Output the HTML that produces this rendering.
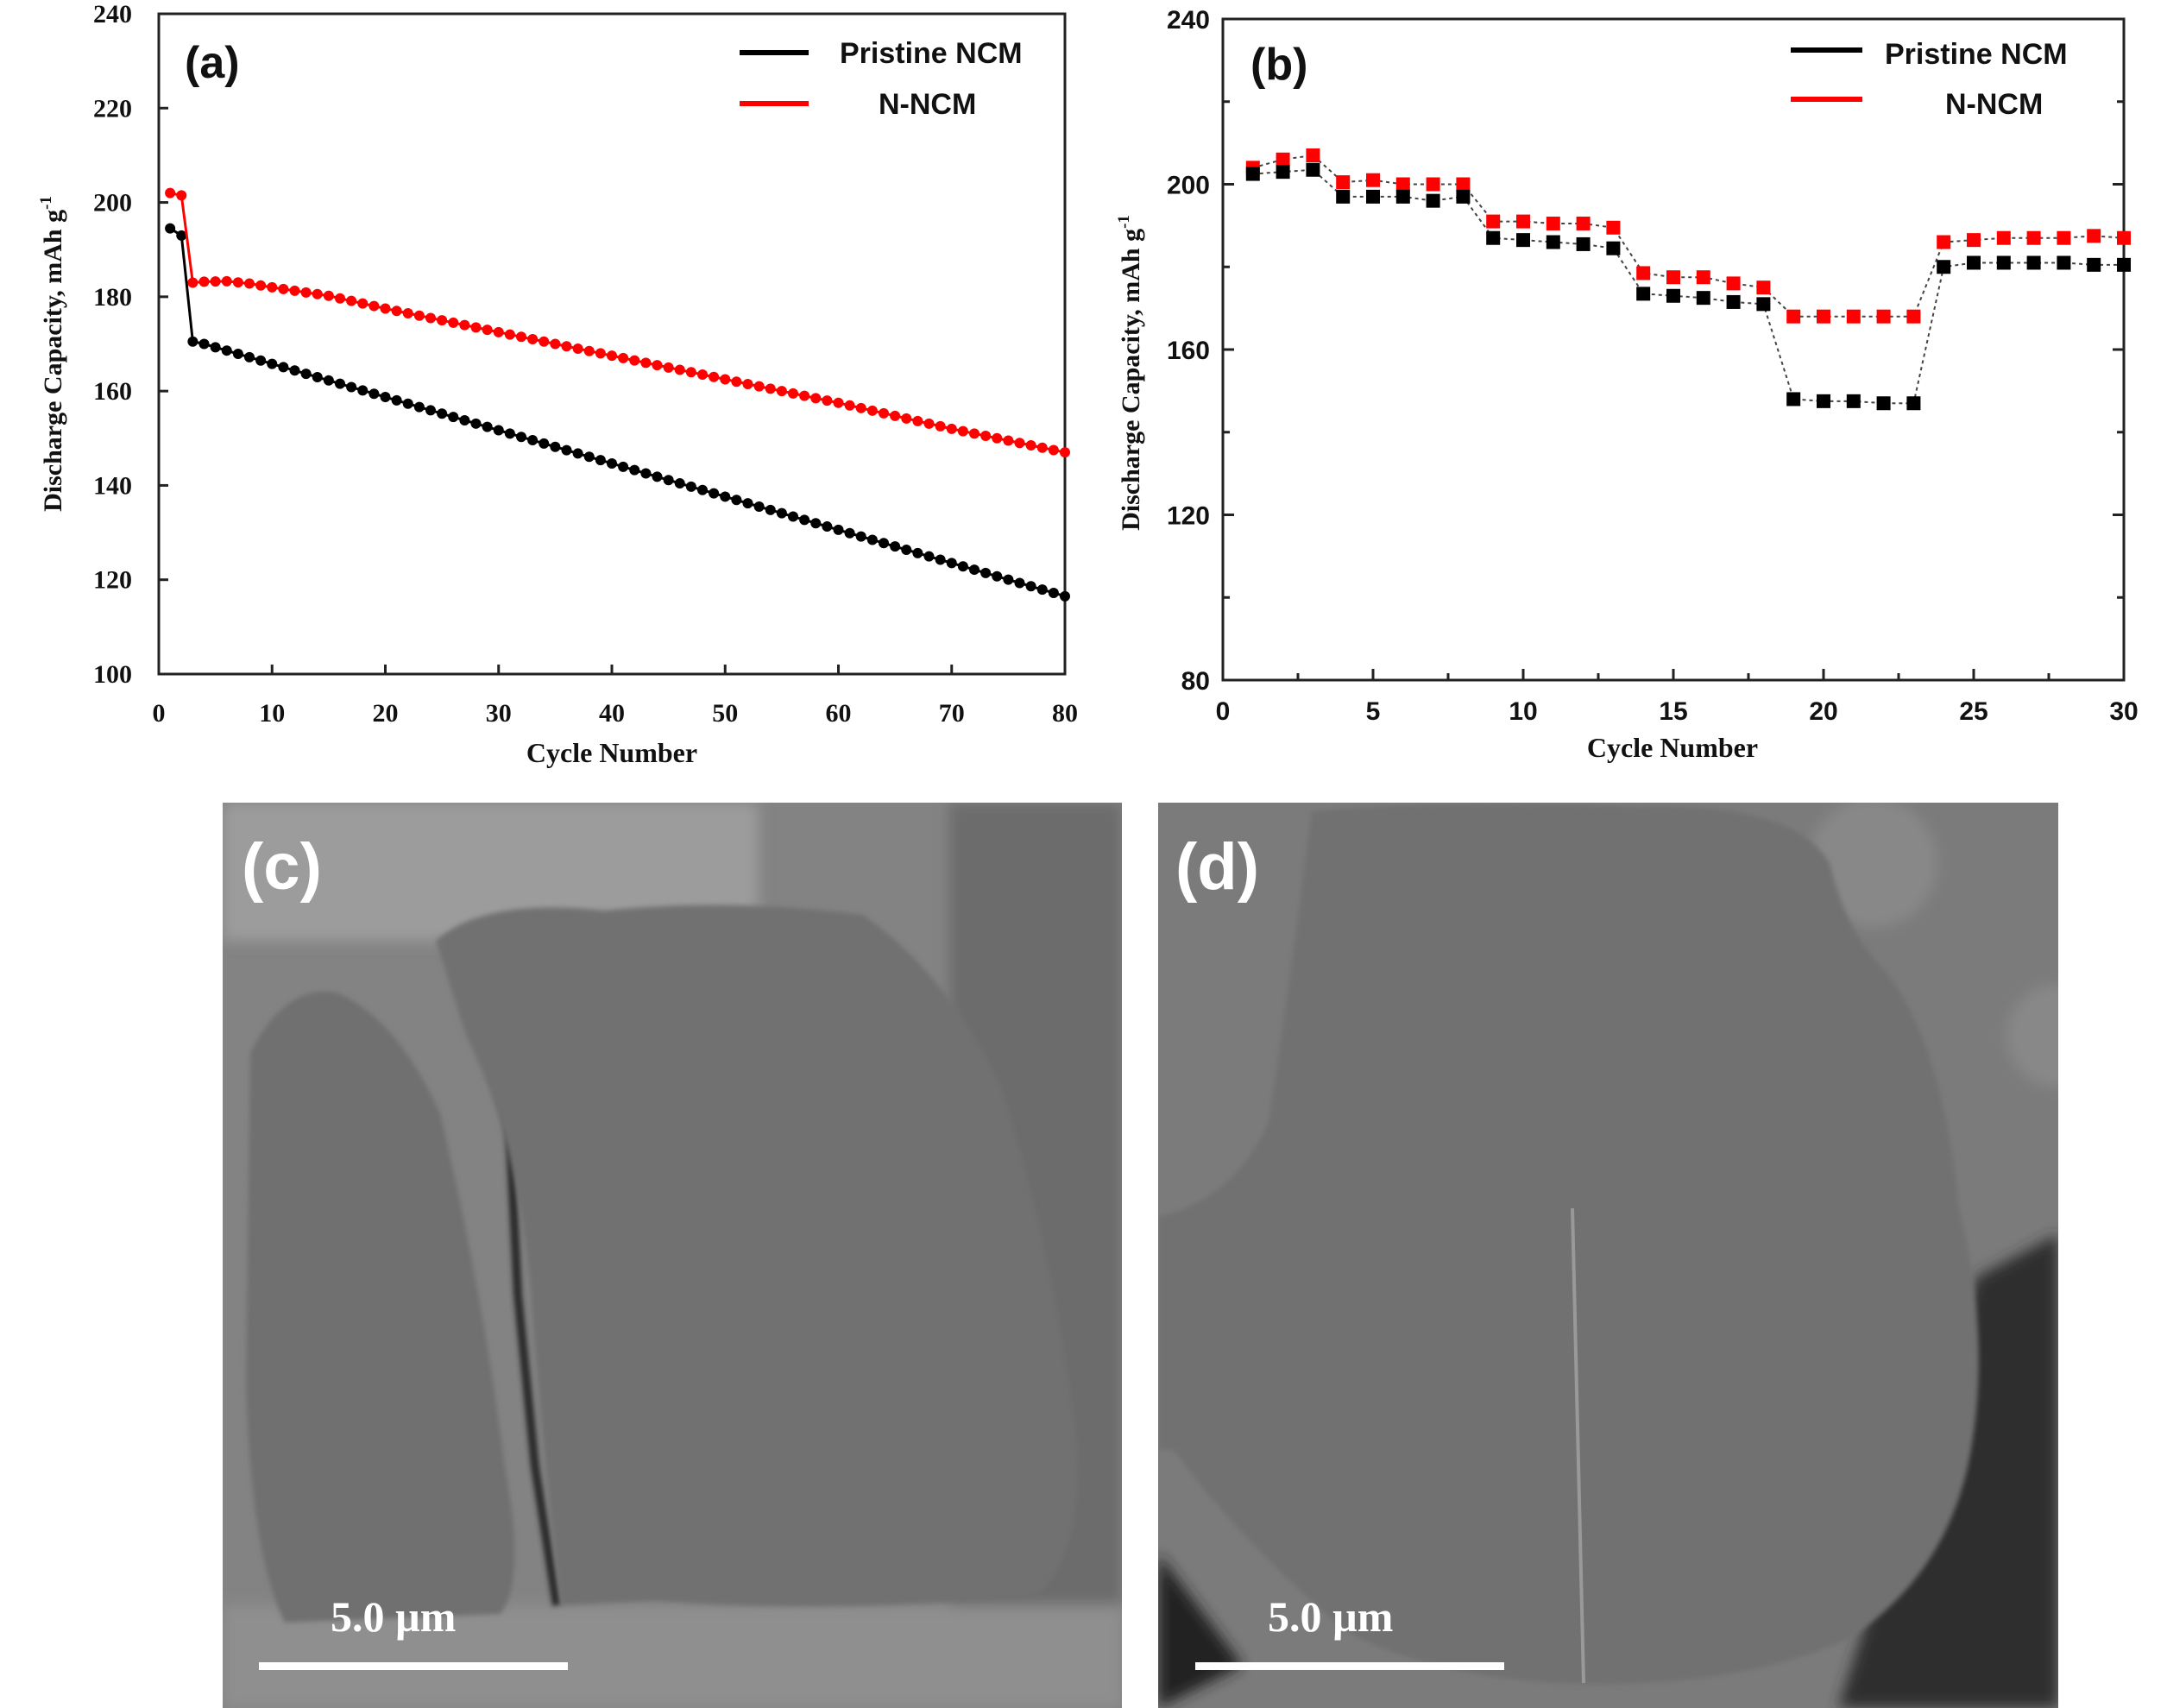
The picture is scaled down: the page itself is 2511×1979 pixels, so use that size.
<!DOCTYPE html>
<html><head><meta charset="utf-8"><style>
html,body{margin:0;padding:0;background:#fff;}
svg{display:block;}
.tl{font-family:"Liberation Serif",serif;font-weight:bold;font-size:30px;fill:#111;}
.ts{font-family:"Liberation Sans",sans-serif;font-weight:bold;font-size:30px;fill:#111;}
.lg{font-family:"Liberation Sans",sans-serif;font-weight:bold;font-size:34px;fill:#111;}
.pl{font-family:"Liberation Sans",sans-serif;font-weight:bold;font-size:52px;fill:#111;}
</style></head><body>
<svg id="s" width="2511" height="1979" viewBox="0 0 2511 1979" xmlns="http://www.w3.org/2000/svg">
<defs>
<filter id="blur8"><feGaussianBlur stdDeviation="8"/></filter>
<filter id="blur3"><feGaussianBlur stdDeviation="3"/></filter>
</defs>
<!-- Chart (a) -->
<rect x="184" y="16" width="1050" height="765" fill="none" stroke="#222" stroke-width="3"/>
<g id="aticks" stroke="#222" stroke-width="3"></g>
<g id="alab" class="tl"></g>
<text class="tl" x="709" y="883" text-anchor="middle" style="font-size:32px">Cycle Number</text>
<text class="tl" transform="translate(71,410) rotate(-90)" text-anchor="middle" style="font-size:30px">Discharge Capacity, mAh g<tspan dy="-12" style="font-size:19px">-1</tspan></text>
<text class="pl" x="214" y="90">(a)</text>
<line x1="857" y1="61" x2="937" y2="61" stroke="#000" stroke-width="6"/>
<line x1="857" y1="120" x2="937" y2="120" stroke="#f00" stroke-width="6"/>
<text class="lg" x="973" y="73">Pristine NCM</text>
<text class="lg" x="1018" y="132">N-NCM</text>
<g id="aser"></g>

<!-- Chart (b) -->
<rect x="1417" y="22" width="1044" height="766" fill="none" stroke="#222" stroke-width="3"/>
<g id="bticks" stroke="#222" stroke-width="3"></g>
<g id="blab" class="ts"></g>
<text class="tl" x="1938" y="877" text-anchor="middle" style="font-size:32px">Cycle Number</text>
<text class="tl" transform="translate(1320,432) rotate(-90)" text-anchor="middle" style="font-size:30px">Discharge Capacity, mAh g<tspan dy="-12" style="font-size:19px">-1</tspan></text>
<text class="pl" x="1449" y="92">(b)</text>
<line x1="2075" y1="58" x2="2158" y2="58" stroke="#000" stroke-width="6"/>
<line x1="2075" y1="115" x2="2158" y2="115" stroke="#f00" stroke-width="6"/>
<text class="lg" x="2184" y="74">Pristine NCM</text>
<text class="lg" x="2254" y="132">N-NCM</text>
<g id="bser"></g>

<!-- SEM (c) -->
<clipPath id="cc"><rect x="258" y="930" width="1042" height="1049"/></clipPath>
<g clip-path="url(#cc)">
<rect x="258" y="930" width="1042" height="1049" fill="#838383"/>
<g filter="url(#blur8)">
<rect x="258" y="930" width="620" height="160" fill="#9c9c9c"/>
<rect x="1100" y="930" width="200" height="1049" fill="#6c6c6c"/>
<rect x="258" y="1860" width="1042" height="119" fill="#8f8f8f"/>
</g>
<path d="M290 1220 Q330 1140 390 1150 Q460 1180 510 1290 Q560 1500 585 1700 Q610 1830 580 1870 L330 1880 Q290 1800 285 1600 Z" fill="#707070" filter="url(#blur3)"/>
<path d="M555 1110 Q560 1180 590 1300 L600 1500 L620 1700 L645 1860" stroke="#2a2a2a" stroke-width="10" fill="none" filter="url(#blur3)"/>
<path d="M505 1090 Q560 1040 700 1055 Q850 1040 1000 1060 Q1100 1130 1160 1260 Q1220 1450 1245 1650 Q1260 1800 1200 1850 Q950 1870 760 1855 L650 1860 Q630 1700 615 1500 Q600 1320 540 1200 Z" fill="#717171" filter="url(#blur3)"/>
<text x="280" y="1030" font-family="Liberation Sans,sans-serif" font-weight="bold" font-size="76" fill="#fff">(c)</text>
<text x="383" y="1890" font-family="Liberation Serif,serif" font-weight="bold" font-size="50" fill="#fff">5.0 µm</text>
<rect x="300" y="1926" width="358" height="9" fill="#fff"/>
</g>

<!-- SEM (d) -->
<clipPath id="cd"><rect x="1342" y="930" width="1043" height="1049"/></clipPath>
<g clip-path="url(#cd)">
<rect x="1342" y="930" width="1043" height="1049" fill="#7b7b7b"/>
<g filter="url(#blur8)">
<path d="M2290 1480 L2385 1430 L2385 1979 L2130 1979 Z" fill="#2e2e2e"/>
<path d="M1342 1800 L1440 1930 L1342 1979 Z" fill="#222"/>
<circle cx="2170" cy="1000" r="75" fill="#888"/>
<circle cx="2385" cy="1200" r="60" fill="#888"/>
</g>
<path d="M1520 940 Q1700 925 1900 935 Q2080 930 2120 1000 Q2140 1080 2180 1120 Q2250 1200 2270 1400 Q2310 1560 2280 1700 Q2250 1830 2140 1900 Q2000 1960 1800 1950 Q1650 1940 1560 1890 Q1440 1790 1360 1680 L1342 1680 L1342 1410 Q1430 1390 1470 1300 Q1500 1100 1520 940 Z" fill="#717171" filter="url(#blur3)"/>
<line x1="1822" y1="1400" x2="1835" y2="1950" stroke="#999" stroke-width="4"/>
<text x="1362" y="1030" font-family="Liberation Sans,sans-serif" font-weight="bold" font-size="76" fill="#fff">(d)</text>
<text x="1469" y="1890" font-family="Liberation Serif,serif" font-weight="bold" font-size="50" fill="#fff">5.0 µm</text>
<rect x="1385" y="1926" width="358" height="9" fill="#fff"/>
</g>
</svg>
<script>
var NS="http://www.w3.org/2000/svg";
function el(p,t,a,txt){var e=document.createElementNS(NS,t);for(var k in a)e.setAttribute(k,a[k]);if(txt!==undefined)e.textContent=txt;p.appendChild(e);return e;}
// chart a
var ax=function(v){return 184+v*1050/80;}, ay=function(v){return 16+(240-v)*765/140;};
var at=document.getElementById('aticks'),al=document.getElementById('alab');
for(var i=0;i<=80;i+=10){if(i>0&&i<80)el(at,'line',{x1:ax(i),y1:781,x2:ax(i),y2:770});el(al,'text',{x:ax(i),y:836,'text-anchor':'middle'},String(i));}
for(var v=100;v<=240;v+=20){if(v>100&&v<240)el(at,'line',{x1:184,y1:ay(v),x2:195,y2:ay(v)});el(al,'text',{x:153,y:ay(v)+10,'text-anchor':'end'},String(v));}
var blk=[[1,194.5],[2,193],[3,170.5]],red=[[1,202],[2,201.5],[3,183]];
for(var c=4;c<=80;c++){blk.push([c,170-(c-4)*53.5/76]);}
var rp=[[4,183.2],[6,183.3],[8,182.8],[10,182],[15,180.2],[20,177.5],[30,172.5],[40,167.5],[50,162.5],[60,157.5],[70,152],[80,147]];
function interp(c){for(var j=0;j<rp.length-1;j++){if(c>=rp[j][0]&&c<=rp[j+1][0]){var t=(c-rp[j][0])/(rp[j+1][0]-rp[j][0]);return rp[j][1]+t*(rp[j+1][1]-rp[j][1]);}}return 147;}
for(var c=4;c<=80;c++)red.push([c,interp(c)]);
var ag=document.getElementById('aser');
[[blk,'#000'],[red,'#f00']].forEach(function(s){
 el(ag,'polyline',{points:s[0].map(function(p){return ax(p[0])+','+ay(p[1]);}).join(' '),fill:'none',stroke:s[1],'stroke-width':3});
 s[0].forEach(function(p){el(ag,'circle',{cx:ax(p[0]),cy:ay(p[1]),r:6,fill:s[1]});});
});
// chart b
var bx=function(v){return 1417+v*1044/30;}, by=function(v){return 22+(240-v)*766/160;};
var bt=document.getElementById('bticks'),bl=document.getElementById('blab');
for(var i=0;i<=30;i+=2.5){var L=(i%5==0)?13:8;if(i>0&&i<30)el(bt,'line',{x1:bx(i),y1:788,x2:bx(i),y2:788-L});if(i%5==0)el(bl,'text',{x:bx(i),y:834,'text-anchor':'middle'},String(i));}
for(var v=80;v<=240;v+=20){var L=(v%40==0)?13:8;if(v>80&&v<240){el(bt,'line',{x1:1417,y1:by(v),x2:1417+L,y2:by(v)});el(bt,'line',{x1:2461,y1:by(v),x2:2461-L,y2:by(v)});}if(v%40==0)el(bl,'text',{x:1402,y:by(v)+11,'text-anchor':'end'},String(v));}
var B=[202.5,203,203.5,197,197,197,196,197,187,186.5,186,185.5,184.5,173.5,173,172.5,171.5,171,148,147.5,147.5,147,147,180,181,181,181,181,180.5,180.5];
var R=[204,206,207,200.5,201,200,200,200,191,191,190.5,190.5,189.5,178.5,177.5,177.5,176,175,168,168,168,168,168,186,186.5,187,187,187,187.5,187];
var bg=document.getElementById('bser');
[[R,'#f00'],[B,'#000']].forEach(function(s){
 el(bg,'polyline',{points:s[0].map(function(v,i){return bx(i+1)+','+by(v);}).join(' '),fill:'none',stroke:'#444','stroke-width':2,'stroke-dasharray':'4,4'});
 s[0].forEach(function(v,i){el(bg,'rect',{x:bx(i+1)-8,y:by(v)-8,width:16,height:16,fill:s[1]});});
});
</script>
</body></html>
